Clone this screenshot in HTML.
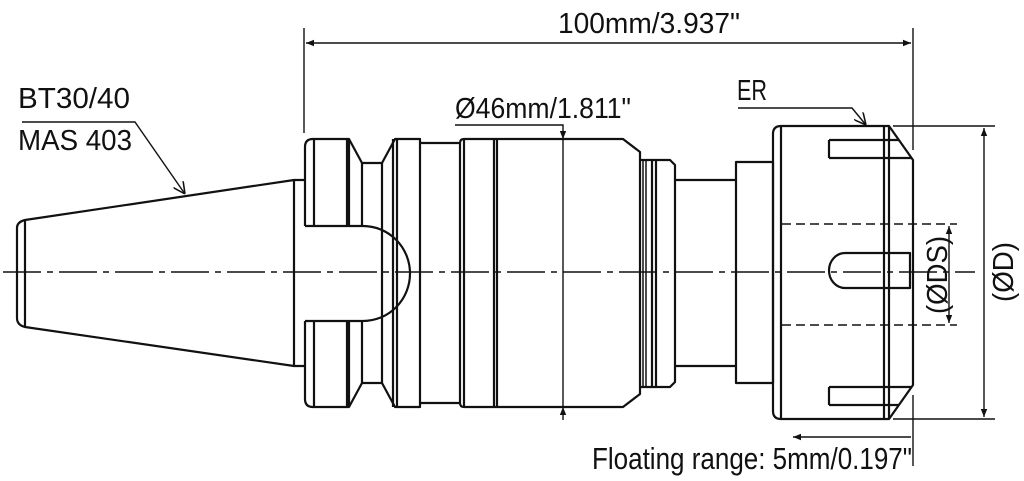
<!DOCTYPE html>
<html><head><meta charset="utf-8"><style>
html,body{margin:0;padding:0;background:#fff;}
svg{display:block;}
text{font-family:"Liberation Sans",sans-serif;fill:#111;}
</style></head><body>
<svg width="1024" height="481" viewBox="0 0 1024 481" xmlns="http://www.w3.org/2000/svg">
<defs>
<marker id="a" viewBox="0 0 10 10" refX="10" refY="5" markerWidth="8" markerHeight="8" orient="auto-start-reverse" markerUnits="userSpaceOnUse"><path d="M0,1 L10,5 L0,9 z" fill="#111"/></marker>
<marker id="o" viewBox="0 0 10 10" refX="10" refY="5" markerWidth="12" markerHeight="12" orient="auto" markerUnits="userSpaceOnUse"><path d="M0,0 L10,5 L0,10" fill="none" stroke="#111" stroke-width="1.3"/></marker>
</defs>
<g fill="none" stroke="#111" stroke-width="2.2" stroke-linejoin="round">
<path d="M25,220 L294,180 L294,366 L25,327 Q17,325 17,318 L17,228 Q17,222 25,220 Z"/>
<line x1="25" y1="220" x2="25" y2="327"/>
<path d="M294,180 L305,180 M294,366 L305,366"/>
<path d="M305,226 L305,147 Q305,139 313,139 L349,139 L362,163 L382,163 L395,139 L420,139 L420,407 L395,407 L382,383 L362,383 L349,407 L313,407 Q305,407 305,399 L305,321"/>
<path d="M314,139 L314,226 M347,139 L347,226 M349,139 L349,226 M362,163 L362,226 M382,163 L382,383 M393,139 L393,407 M397,139 L397,407"/>
<path d="M314,321 L314,407 M347,321 L347,407 M349,321 L349,407 M362,321 L362,383"/>
<path d="M305,226 L363,226 A47,47.5 0 0 1 363,321 L305,321"/>
<path d="M420,143 L460,143 M420,403 L460,403"/>
<path d="M460,143 Q460,139 464,139 L623,139 L640,152 L640,394 L623,407 L464,407 Q460,407 460,403 Z"/>
<path d="M464,139 L464,407 M494,139 L494,407 M497,139 L497,407"/>
<path d="M640,160 L652,160 L652,387 L640,387"/>
<path d="M643,160 L643,387 M646,160 L646,387" stroke-width="1.5"/>
<path d="M652,160 L670,160 L675,165 L675,382 L670,387 L652,387"/>
<path d="M656,160 L656,387"/>
<path d="M675,180 L736,180 M675,366 L736,366"/>
<rect x="736" y="162" width="37" height="221"/>
<path d="M773,134 Q773,126 781,126 L889,126 L913,160 L913,385 L889,419 L781,419 Q773,419 773,411 Z"/>
<path d="M781,126 L781,419 M884,126 L884,419 M889,126 L889,419"/>
<path d="M829,140 L899,140 M829,158 L911,158 M829,140 L829,158"/>
<path d="M829,405 L899,405 M829,387 L911,387 M829,387 L829,405"/>
<path d="M910,253 L845,253 A16,17.5 0 0 0 845,288 L910,288 Z"/>
</g>
<g fill="none" stroke="#111" stroke-width="1.4">
<line x1="3" y1="272" x2="975" y2="272" stroke-dasharray="38,6,6,6"/>
<line x1="782" y1="224" x2="957" y2="224" stroke-dasharray="9,5"/>
<line x1="782" y1="325" x2="957" y2="325" stroke-dasharray="9,5"/>
<line x1="304" y1="28" x2="304" y2="133"/>
<line x1="913" y1="28" x2="913" y2="150"/>
<line x1="306" y1="43" x2="911" y2="43" marker-start="url(#a)" marker-end="url(#a)"/>
<path d="M455,125 L563,125 L563,139" marker-end="url(#a)"/>
<line x1="563" y1="139" x2="563" y2="407"/>
<line x1="563" y1="420" x2="563" y2="407" marker-end="url(#a)"/>
<line x1="893" y1="126" x2="995" y2="126"/>
<line x1="893" y1="419" x2="995" y2="419"/>
<line x1="984" y1="128" x2="984" y2="417" marker-start="url(#a)" marker-end="url(#a)"/>
<line x1="949" y1="226" x2="949" y2="323" marker-start="url(#a)" marker-end="url(#a)"/>
<line x1="913" y1="395" x2="913" y2="466"/>
<line x1="911" y1="437" x2="793" y2="437" marker-end="url(#a)"/>
<path d="M738,108 L852,108 L866,125" marker-end="url(#o)"/>
<path d="M22,122 L135,122 L185,194" marker-end="url(#o)"/>
</g>
<g font-size="29">
<text x="558" y="33" textLength="182" lengthAdjust="spacingAndGlyphs">100mm/3.937"</text>
<text x="455" y="118" textLength="176" lengthAdjust="spacingAndGlyphs">Ø46mm/1.811"</text>
<text x="737" y="100" textLength="30" lengthAdjust="spacingAndGlyphs">ER</text>
<text x="18" y="108" textLength="112" lengthAdjust="spacingAndGlyphs">BT30/40</text>
<text x="18" y="150" textLength="114" lengthAdjust="spacingAndGlyphs">MAS 403</text>
<text x="592" y="469" font-size="31" textLength="320" lengthAdjust="spacingAndGlyphs">Floating range: 5mm/0.197"</text>
<text transform="translate(947,275) rotate(-90)" text-anchor="middle" textLength="78" lengthAdjust="spacingAndGlyphs">(ØDS)</text>
<text transform="translate(1013,272) rotate(-90)" text-anchor="middle" textLength="60" lengthAdjust="spacingAndGlyphs">(ØD)</text>
</g>
</svg>
</body></html>
